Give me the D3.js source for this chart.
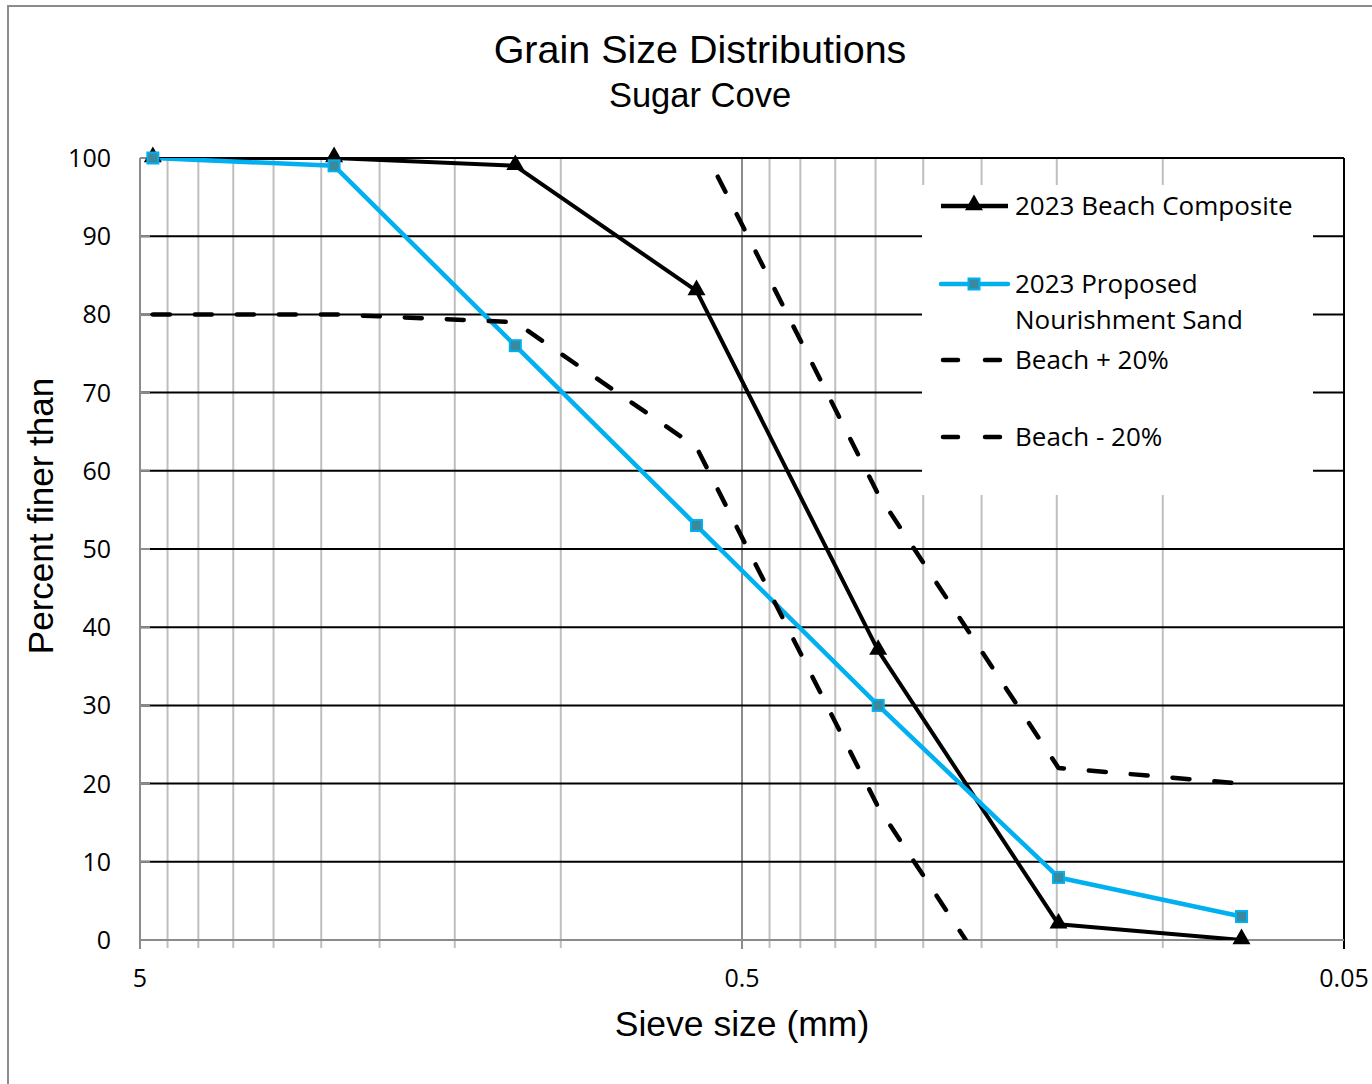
<!DOCTYPE html>
<html><head><meta charset="utf-8">
<script src="https://cdn.jsdelivr.net/npm/d3@7"></script>
<style>
html,body{margin:0;padding:0;background:#fff;}
svg{display:block;}
</style>
</head><body>
<svg id="chart" width="1372" height="1084"></svg>
<script>
// ---- data ----
const sieveSizes = [4.76, 2.38, 1.19, 0.595, 0.297, 0.149, 0.074];
const beachComposite = [100, 100, 99, 83, 37, 2, 0];
const proposedSand = [100, 99, 76, 53, 30, 8, 3];
const beachPlus20 = [120, 120, 119, 103, 57, 22, 20];
const beachMinus20 = [80, 80, 79, 63, 17, -18, -20];
const xMajorTicks = [5, 0.5, 0.05];
const xTickLabels = ["5", "0.5", "0.05"];
const xMinorTicks = [4.5, 4, 3.5, 3, 2.5, 2, 1.5, 1, 0.45, 0.4, 0.35, 0.3, 0.25, 0.2, 0.15, 0.1];
const yTicks = [0, 10, 20, 30, 40, 50, 60, 70, 80, 90, 100];
const seriesNames = ["2023 Beach Composite", "2023 Proposed|Nourishment Sand", "Beach + 20%", "Beach - 20%"];

const svg = d3.select("#chart");
const L = 140, R = 1344, T = 158, B = 940;
const x = d3.scaleLog().domain([5, 0.05]).range([L, R]);
const y = d3.scaleLinear().domain([0, 100]).range([B, T]);

// outer border
svg.append("rect").attr("x", 8).attr("y", 6).attr("width", 1400).attr("height", 1100)
  .attr("fill", "#fff").attr("stroke", "#8c8c8c").attr("stroke-width", 2);

// titles
svg.append("text").attr("x", 700).attr("y", 63).attr("text-anchor", "middle")
  .attr("font-family", "Liberation Sans, Arial, sans-serif").attr("font-size", 39.5).text("Grain Size Distributions");
svg.append("text").attr("x", 700).attr("y", 107).attr("text-anchor", "middle")
  .attr("font-family", "Liberation Sans, Arial, sans-serif").attr("font-size", 34.5).text("Sugar Cove");

// vertical grid
const g = svg.append("g");
g.selectAll("line.vmin").data(xMinorTicks).enter().append("line")
  .attr("x1", d => x(d)).attr("x2", d => x(d)).attr("y1", T).attr("y2", B + 8)
  .attr("stroke", "#bfbfbf").attr("stroke-width", 2);
g.selectAll("line.vmaj").data(xMajorTicks.slice(0, 2)).enter().append("line")
  .attr("x1", d => x(d)).attr("x2", d => x(d)).attr("y1", T).attr("y2", B + 9)
  .attr("stroke", "#8c8c8c").attr("stroke-width", 2);

// horizontal grid
g.selectAll("line.h").data(yTicks.slice(1)).enter().append("line")
  .attr("x1", L).attr("x2", R).attr("y1", d => y(d)).attr("y2", d => y(d))
  .attr("stroke", "#000").attr("stroke-width", 2);

// right border
svg.append("line").attr("x1", R).attr("x2", R).attr("y1", T).attr("y2", B + 9)
  .attr("stroke", "#000").attr("stroke-width", 2);

// axes lines
svg.append("line").attr("x1", L).attr("x2", R).attr("y1", B).attr("y2", B)
  .attr("stroke", "#8c8c8c").attr("stroke-width", 2);
svg.append("line").attr("x1", L).attr("x2", L).attr("y1", T).attr("y2", B + 9)
  .attr("stroke", "#8c8c8c").attr("stroke-width", 2);
// y axis inner ticks
svg.selectAll("line.yt").data(yTicks).enter().append("line")
  .attr("x1", L).attr("x2", L + 10).attr("y1", d => y(d)).attr("y2", d => y(d))
  .attr("stroke", "#8c8c8c").attr("stroke-width", 2);

// tick labels
svg.selectAll("text.yl").data(yTicks).enter().append("text")
  .attr("x", 111).attr("y", d => y(d) + 9).attr("text-anchor", "end")
  .attr("font-family", "Open Sans, sans-serif").attr("font-size", 25).text(d => d);
svg.selectAll("text.xl").data(xMajorTicks).enter().append("text")
  .attr("x", d => x(d)).attr("y", 987).attr("text-anchor", "middle")
  .attr("font-family", "Open Sans, sans-serif").attr("font-size", 25).text((d, i) => xTickLabels[i]);

// axis titles
svg.append("text").attr("x", 742).attr("y", 1036).attr("text-anchor", "middle")
  .attr("font-family", "Liberation Sans, Arial, sans-serif").attr("font-size", 35.5).text("Sieve size (mm)");
svg.append("text").attr("transform", "translate(53,516) rotate(-90)").attr("text-anchor", "middle")
  .attr("font-family", "Liberation Sans, Arial, sans-serif").attr("font-size", 35).text("Percent finer than");

// legend box (covers grid)
svg.append("rect").attr("x", 922).attr("y", 185).attr("width", 391).attr("height", 310).attr("fill", "#fff");

// series
svg.append("defs").append("clipPath").attr("id", "plotclip").append("rect")
  .attr("x", L).attr("y", T).attr("width", R - L).attr("height", B - T);
const line = d3.line().x(d => x(d[0])).y(d => y(d[1]));
const zip = vals => sieveSizes.map((s, i) => [s, vals[i]]);
const series = svg.append("g").attr("clip-path", "url(#plotclip)");

series.append("path").datum(zip(beachComposite)).attr("d", line)
  .attr("fill", "none").attr("stroke", "#000").attr("stroke-width", 4).attr("stroke-linejoin", "round");
series.append("path").datum(zip(proposedSand)).attr("d", line)
  .attr("fill", "none").attr("stroke", "#00b0f0").attr("stroke-width", 4.5).attr("stroke-linejoin", "round");
[beachPlus20, beachMinus20].forEach(v => {
  series.append("path").datum(zip(v)).attr("d", line)
    .attr("fill", "none").attr("stroke", "#000").attr("stroke-width", 4.5)
    .attr("stroke-dasharray", "17,25").attr("stroke-linecap", "round").attr("stroke-linejoin", "round");
});

const tri = d3.symbol().type(d3.symbolTriangle).size(140);
const markers = svg.append("g");
markers.selectAll("path.tri").data(zip(beachComposite)).enter().append("path")
  .attr("d", tri).attr("transform", d => `translate(${x(d[0])},${y(d[1]) - 1})`).attr("fill", "#000");
markers.selectAll("rect.sq").data(zip(proposedSand)).enter().append("rect")
  .attr("x", d => x(d[0]) - 5.5).attr("y", d => y(d[1]) - 5.5).attr("width", 11).attr("height", 11)
  .attr("fill", "#3a8a9c").attr("stroke", "#00b0f0").attr("stroke-width", 2);

// legend entries
const lg = svg.append("g").attr("font-family", "Open Sans, sans-serif").attr("font-size", 26);
const legendY = [206, 284, 360, 437];
// entry 1
lg.append("line").attr("x1", 941).attr("x2", 1008).attr("y1", legendY[0]).attr("y2", legendY[0])
  .attr("stroke", "#000").attr("stroke-width", 4.5);
lg.append("path").attr("d", tri).attr("transform", `translate(974,${legendY[0] - 1})`).attr("fill", "#000");
// entry 2
lg.append("line").attr("x1", 941).attr("x2", 1008).attr("y1", legendY[1]).attr("y2", legendY[1])
  .attr("stroke", "#00b0f0").attr("stroke-width", 4.5).attr("stroke-linecap", "round");
lg.append("rect").attr("x", 968.5).attr("y", legendY[1] - 5.5).attr("width", 11).attr("height", 11)
  .attr("fill", "#3a8a9c").attr("stroke", "#00b0f0").attr("stroke-width", 2);
// entries 3,4
[2, 3].forEach(i => {
  lg.append("line").attr("x1", 943).attr("x2", 1006).attr("y1", legendY[i]).attr("y2", legendY[i])
    .attr("stroke", "#000").attr("stroke-width", 4.5).attr("stroke-linecap", "round")
    .attr("stroke-dasharray", "15,27");
});
seriesNames.forEach((n, i) => {
  const parts = n.split("|");
  parts.forEach((p, j) => {
    lg.append("text").attr("x", 1015).attr("y", legendY[i] + 9 + j * 36).text(p);
  });
});
</script>
</body></html>
